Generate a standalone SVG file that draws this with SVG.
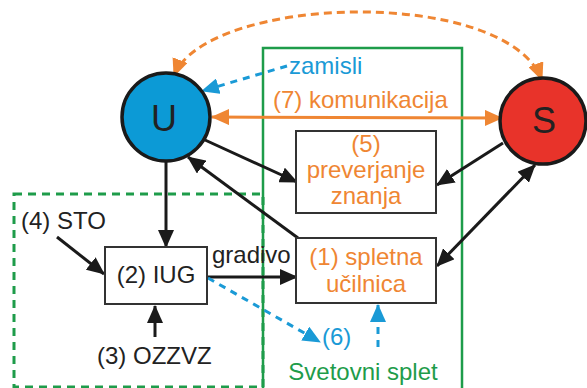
<svg xmlns="http://www.w3.org/2000/svg" width="587" height="388" viewBox="0 0 587 388">
<style>
text{font-family:"Liberation Sans",Arial,sans-serif;font-size:24px}
.or{fill:#ef8633}
.bl{fill:#1a9ad6}
.gr{fill:#1e9c4a}
.bk{fill:#222}
.box{fill:#fff;stroke:#333;stroke-width:2}
.k{stroke:#1a1a1a;stroke-width:3;fill:none}
.ko{stroke:#ef8633;stroke-width:3;fill:none}
.kod{stroke:#ef8633;stroke-width:3;fill:none;stroke-dasharray:8 5}
.kb{stroke:#1a9ad6;stroke-width:3;fill:none;stroke-dasharray:7 6}
</style>
<defs>
<marker id="ak" markerUnits="userSpaceOnUse" markerWidth="18" markerHeight="16" refX="17" refY="8" orient="auto-start-reverse" viewBox="0 0 18 16"><path d="M0,0 L18,8 L0,16 z" fill="#1a1a1a"/></marker>
<marker id="ao" markerUnits="userSpaceOnUse" markerWidth="18" markerHeight="16" refX="17" refY="8" orient="auto-start-reverse" viewBox="0 0 18 16"><path d="M0,0 L18,8 L0,16 z" fill="#ef8633"/></marker>
<marker id="ab" markerUnits="userSpaceOnUse" markerWidth="18" markerHeight="16" refX="17" refY="8" orient="auto-start-reverse" viewBox="0 0 18 16"><path d="M0,0 L18,8 L0,16 z" fill="#1a9ad6"/></marker>
</defs>
<rect width="587" height="388" fill="#fff"/>
<g id="iug-region">
<rect x="14" y="194" width="249" height="193" fill="none" stroke="#1e9c4a" stroke-width="3" stroke-dasharray="8 6"/>
</g>
<g id="svetovni-splet">
<rect x="263" y="48" width="199" height="345" fill="none" stroke="#1e9c4a" stroke-width="2.5"/>
<text class="gr" x="363" y="380" text-anchor="middle">Svetovni splet</text>
</g>
<g id="connectors">
<path class="kod" d="M174,76 C205,-5 505,-15 542,80" marker-start="url(#ao)" marker-end="url(#ao)"/>
<path class="kb" d="M287,66 L202,91" marker-end="url(#ab)"/>
<path class="ko" d="M212,117 L502,118" marker-start="url(#ao)" marker-end="url(#ao)"/>
<path class="k" d="M205,140 L297,182" marker-end="url(#ak)"/>
<path class="k" d="M298,238 L188,157" marker-end="url(#ak)"/>
<path class="k" d="M166,162 L166,247" marker-end="url(#ak)"/>
<path class="k" d="M503,143 L437,185" marker-end="url(#ak)"/>
<path class="k" d="M437,266 L535,165" marker-start="url(#ak)" marker-end="url(#ak)"/>
<path class="k" d="M57,237 L104,274" marker-end="url(#ak)"/>
<path class="k" d="M155,337 L155,306" marker-end="url(#ak)"/>
<path class="k" d="M208,277 L297,277" marker-end="url(#ak)"/>
<path class="kb" d="M208,278 L320,342" marker-end="url(#ab)"/>
<path class="kb" d="M378,347 L378,305" marker-end="url(#ab)"/>
</g>
<g id="U">
<circle cx="166" cy="117" r="44" fill="#0c9ad6" stroke="#1a1a1a" stroke-width="3.5"/>
<text class="bk" x="164" y="131" text-anchor="middle" style="font-size:36px">U</text>
</g>
<g id="S">
<circle cx="543" cy="121" r="43" fill="#e8332a" stroke="#1a1a1a" stroke-width="3.5"/>
<text class="bk" x="544" y="133" text-anchor="middle" style="font-size:36px">S</text>
</g>
<g id="zamisli"><text class="bl" x="289" y="74">zamisli</text></g>
<g id="komunikacija"><text class="or" x="273" y="108">(7) komunikacija</text></g>
<g id="preverjanje">
<rect class="box" x="296" y="131" width="140" height="82"/>
<text class="or" x="366" y="152" text-anchor="middle">(5)</text>
<text class="or" x="366" y="178" text-anchor="middle">preverjanje</text>
<text class="or" x="366" y="204" text-anchor="middle">znanja</text>
</g>
<g id="spletna-ucilnica">
<rect class="box" x="296" y="238" width="140" height="65"/>
<text class="or" x="366" y="265" text-anchor="middle">(1) spletna</text>
<text class="or" x="366" y="292" text-anchor="middle">učilnica</text>
</g>
<g id="IUG">
<rect class="box" x="105" y="247" width="102" height="57"/>
<text class="bk" x="156" y="283" text-anchor="middle">(2) IUG</text>
</g>
<g id="STO"><text class="bk" x="21" y="229">(4) STO</text></g>
<g id="OZZVZ"><text class="bk" x="97" y="364">(3) OZZVZ</text></g>
<g id="gradivo"><text class="bk" x="212" y="263">gradivo</text></g>
<g id="n6"><text class="bl" x="322" y="345">(6)</text></g>
</svg>
